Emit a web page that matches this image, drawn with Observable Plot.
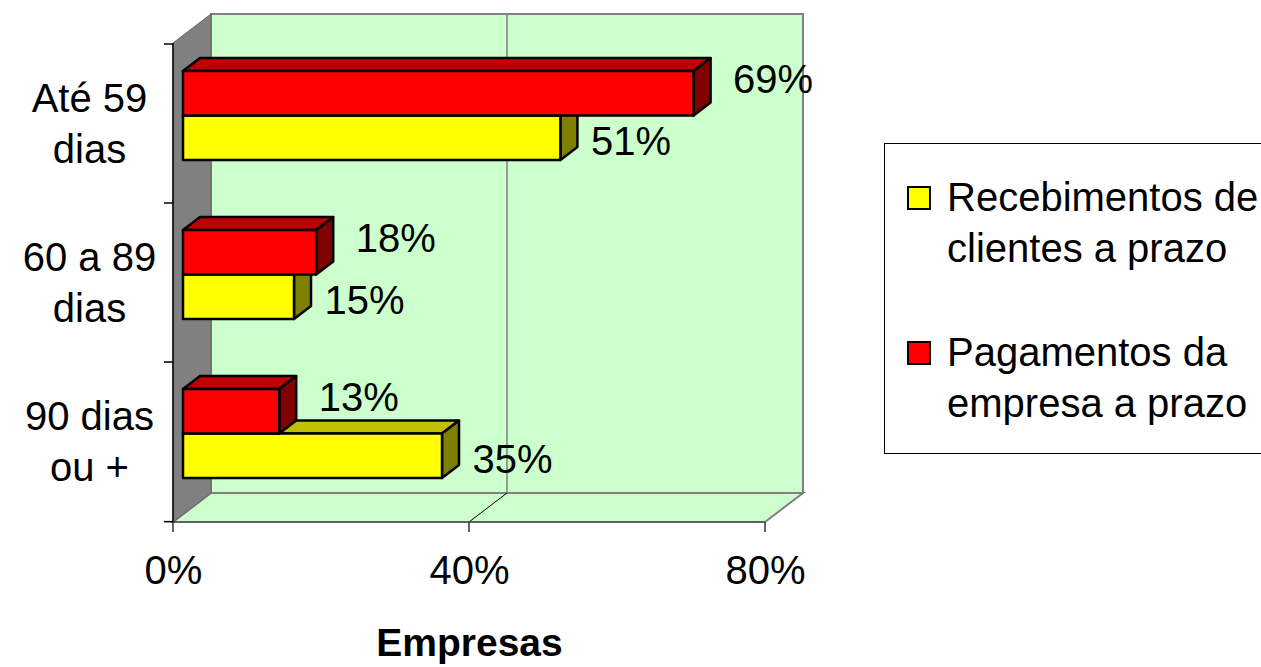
<!DOCTYPE html>
<html>
<head>
<meta charset="utf-8">
<script src="https://cdn.jsdelivr.net/npm/d3@7"></script>
<script src="https://cdn.jsdelivr.net/npm/@observablehq/plot@0.6"></script>
<style>
  html, body { margin: 0; padding: 0; background: #fff; overflow: hidden; }
  #chart { position: relative; width: 1261px; height: 667px; overflow: hidden;
           font-family: "Liberation Sans", Arial, sans-serif; color: #000; }
  #chart svg { display: block; }
  .legend { position: absolute; left: 884px; top: 143px; width: 420px; height: 311px;
            box-sizing: border-box; border: 1px solid #000; background: #fff; }
  .legend .item { position: absolute; left: 0; }
  .legend .swatch { position: absolute; left: 22px; width: 20px; height: 20px;
                    border: 2px solid #000; }
  .legend .label { position: absolute; left: 62px; font-size: 40px; line-height: 51px;
                   white-space: nowrap; }
</style>
</head>
<body>
<div id="chart"></div>
<script>
// Categories (top to bottom) and their two-line axis labels
const categories = ["Até 59 dias", "60 a 89 dias", "90 dias ou +"];
const categoryLabels = ["Até 59\ndias", "60 a 89\ndias", "90 dias\nou +"];

// Series, in legend order
const seriesNames = ["Recebimentos de clientes a prazo", "Pagamentos da empresa a prazo"];
const legendLines = [["Recebimentos de", "clientes a prazo"], ["Pagamentos da", "empresa a prazo"]];

// Share of companies (%)
const recebimentos = [51, 15, 35];
const pagamentos = [69, 18, 13];

const xTicks = [0, 40, 80];
const xTitle = "Empresas";

// One row per bar; slot 0 is the upper bar of each pair, slot 1 the lower
const rows = categories.flatMap((cat, i) => [
  {cat, series: seriesNames[1], value: pagamentos[i], slot: 0},
  {cat, series: seriesNames[0], value: recebimentos[i], slot: 1}
]);

// Oblique projection used for the 3D look
const WALL = [38, -29];      // offset of the back wall from the front plane
const BAR_FRONT = [10, -8];  // offset of the bars' front faces
const BAR_DEPTH = [17, -13]; // depth of each bar
const BAR_FRAC = 0.28;       // bar thickness as a share of the category band

const shades = {
  [seriesNames[0]]: {front: "#ffff00", top: "#c0c000", side: "#808000"},
  [seriesNames[1]]: {front: "#ff0000", top: "#c00000", side: "#800000"}
};

const svgNS = "http://www.w3.org/2000/svg";
const newGroup = (ctx) => d3.select(ctx.document.createElementNS(svgNS, "g"));
const pts = (p) => p.map((q) => q.join(",")).join(" ");

// Back wall, floor and side wall of the 3D box
const walls = Plot.frame({
  stroke: "none",
  render(index, scales, values, dims, ctx) {
    const {x} = scales;
    const g = newGroup(ctx);
    const x0 = x(xTicks[0]), x1 = x(xTicks[xTicks.length - 1]);
    const top = dims.marginTop, bottom = dims.height - dims.marginBottom;
    const [dx, dy] = WALL;
    g.append("rect")
      .attr("x", x0 + dx).attr("y", top + dy)
      .attr("width", x1 - x0).attr("height", bottom - top)
      .attr("fill", "#ccffcc").attr("stroke", "#808080").attr("stroke-width", 2);
    for (const t of xTicks.slice(1, -1)) {
      g.append("line")
        .attr("x1", x(t) + dx).attr("x2", x(t) + dx)
        .attr("y1", top + dy).attr("y2", bottom + dy)
        .attr("stroke", "#808080").attr("stroke-width", 1.5);
    }
    g.append("polygon")
      .attr("points", pts([[x0, bottom], [x1, bottom], [x1 + dx, bottom + dy], [x0 + dx, bottom + dy]]))
      .attr("fill", "#ccffcc").attr("stroke", "#808080").attr("stroke-width", 2);
    for (const t of xTicks.slice(1, -1)) {
      g.append("line")
        .attr("x1", x(t)).attr("y1", bottom)
        .attr("x2", x(t) + dx).attr("y2", bottom + dy)
        .attr("stroke", "#000").attr("stroke-width", 1);
    }
    g.append("polygon")
      .attr("points", pts([[x0, top], [x0 + dx, top + dy], [x0 + dx, bottom + dy], [x0, bottom]]))
      .attr("fill", "#808080").attr("stroke", "#666").attr("stroke-width", 1);
    return g.node();
  }
});

// Axis lines and tick marks
const axes = Plot.frame({
  stroke: "none",
  render(index, scales, values, dims, ctx) {
    const {x, y} = scales;
    const g = newGroup(ctx);
    const x0 = x(xTicks[0]), x1 = x(xTicks[xTicks.length - 1]);
    const top = dims.marginTop, bottom = dims.height - dims.marginBottom;
    const bw = (bottom - top) / categories.length;
    const bounds = categories.map((c) => y(c)).concat([y(categories[categories.length - 1]) + bw]);
    g.append("line").attr("x1", x0).attr("x2", x1).attr("y1", bottom).attr("y2", bottom)
      .attr("stroke", "#555").attr("stroke-width", 1.5);
    for (const t of xTicks) {
      g.append("line").attr("x1", x(t)).attr("x2", x(t)).attr("y1", bottom).attr("y2", bottom + 10)
        .attr("stroke", "#333").attr("stroke-width", 1.5);
    }
    g.append("line").attr("x1", x0).attr("x2", x0).attr("y1", top).attr("y2", bottom)
      .attr("stroke", "#000").attr("stroke-width", 1.5);
    for (const b of bounds) {
      g.append("line").attr("x1", x0 - 9).attr("x2", x0).attr("y1", b).attr("y2", b)
        .attr("stroke", "#000").attr("stroke-width", 1.5);
    }
    return g.node();
  }
});

// 3D bars: front face, top face and right face
const bars = Plot.barX(rows, {
  x1: 0,
  x2: "value",
  y: "cat",
  render(index, scales, values, dims, ctx) {
    const g = newGroup(ctx);
    const bw = scales.y.bandwidth ? scales.y.bandwidth()
      : (dims.height - dims.marginTop - dims.marginBottom) / categories.length;
    const t = bw * BAR_FRAC;
    const [bx, by] = BAR_DEPTH;
    const order = Array.from(index).sort((a, b) => rows[b].slot - rows[a].slot);
    for (const i of order) {
      const d = rows[i];
      const c = values.y[i] + bw / 2 + BAR_FRONT[1];
      const y0 = d.slot === 0 ? c - t : c;
      const y1 = y0 + t;
      const xl = values.x1[i] + BAR_FRONT[0];
      const xr = values.x2[i] + BAR_FRONT[0];
      const col = shades[d.series];
      const face = (p, fill) => g.append("polygon").attr("points", pts(p))
        .attr("fill", fill).attr("stroke", "#000").attr("stroke-width", 2.5)
        .attr("stroke-linejoin", "round");
      face([[xl, y0], [xr, y0], [xr + bx, y0 + by], [xl + bx, y0 + by]], col.top);
      face([[xr, y0], [xr + bx, y0 + by], [xr + bx, y1 + by], [xr, y1]], col.side);
      face([[xl, y0], [xr, y0], [xr, y1], [xl, y1]], col.front);
    }
    return g.node();
  }
});

const font = 40;

const plot = Plot.plot({
  width: 1261,
  height: 667,
  marginLeft: 173,
  marginRight: 496,
  marginTop: 43,
  marginBottom: 145,
  style: {fontFamily: "'Liberation Sans', Arial, sans-serif", background: "#fff", color: "#000", overflow: "visible"},
  x: {domain: [xTicks[0], xTicks[xTicks.length - 1]], axis: null},
  y: {domain: categories, axis: null, padding: 0},
  marks: [
    walls,
    axes,
    bars,
    // values of the upper (red) bars
    Plot.text(rows.filter((d) => d.slot === 0), {
      x: "value", y: "cat", text: (d) => `${d.value}%`,
      textAnchor: "start", dx: 49, dy: -44, fontSize: font, fill: "#000"
    }),
    // values of the lower (yellow) bars
    Plot.text(rows.filter((d) => d.slot === 1), {
      x: "value", y: "cat", text: (d) => `${d.value}%`,
      textAnchor: "start", dx: 40, dy: 18, fontSize: font, fill: "#000"
    }),
    // category labels
    Plot.text(categories, {
      y: (d) => d, text: (d, i) => categoryLabels[i],
      frameAnchor: "left", dx: -84, dy: -3, textAnchor: "middle", lineAnchor: "middle",
      lineHeight: 1.275, fontSize: font, fill: "#000"
    }),
    // x tick labels
    Plot.text(xTicks, {
      x: (d) => d, text: (d) => `${d}%`,
      frameAnchor: "bottom", lineAnchor: "middle", dy: 49, fontSize: font, fill: "#000"
    }),
    // x axis title
    Plot.text([xTitle], {
      text: (d) => d, frameAnchor: "bottom", lineAnchor: "middle", dy: 121,
      fontSize: 39, fontWeight: "bold", fill: "#000"
    })
  ]
});

const chart = document.getElementById("chart");
chart.appendChild(plot);

// Legend box
const legend = document.createElement("div");
legend.className = "legend";
const itemTops = [28, 183];
seriesNames.forEach((name, k) => {
  const item = document.createElement("div");
  item.className = "item";
  item.style.top = itemTops[k] + "px";
  const sw = document.createElement("div");
  sw.className = "swatch";
  sw.style.top = "14px";
  sw.style.background = shades[name].front;
  const lab = document.createElement("div");
  lab.className = "label";
  lab.innerHTML = legendLines[k].join("<br>");
  item.appendChild(sw);
  item.appendChild(lab);
  legend.appendChild(item);
});
chart.appendChild(legend);
</script>
</body>
</html>
